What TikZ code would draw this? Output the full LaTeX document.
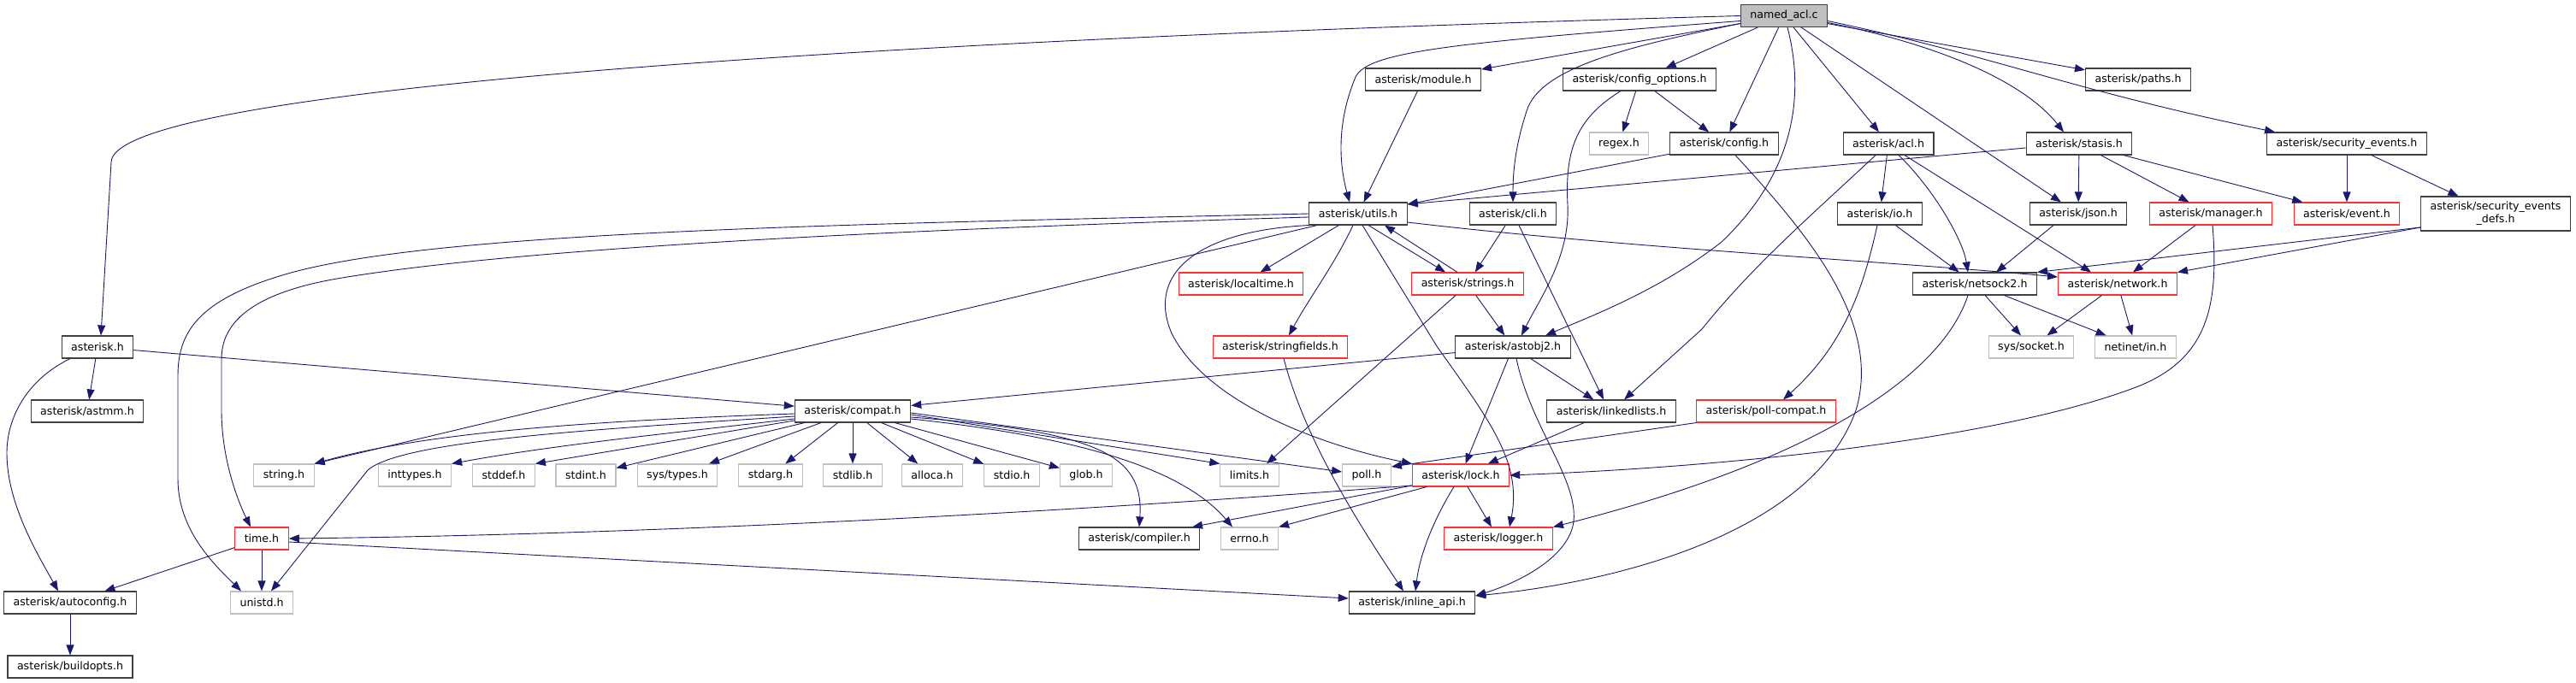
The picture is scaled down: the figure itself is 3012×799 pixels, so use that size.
\documentclass[tikz,border=0pt]{standalone}
\usepackage{fontspec}
\setmainfont{DejaVu Sans}
\usetikzlibrary{arrows.meta}
\definecolor{dgEdge}{HTML}{191970}
\definecolor{dgBlack}{HTML}{404040}
\definecolor{dgRed}{HTML}{FF3030}
\definecolor{dgGrey}{HTML}{BFBFBF}
\definecolor{dgFill}{HTML}{BFBFBF}

\begin{document}
\begin{tikzpicture}[
    x=1pt, y=-1pt,
    >={Triangle[length=12pt, width=9pt]},
    every node/.style={font=\fontsize{12.6}{15}\selectfont},
    % --- node styles ---
    hdr/.style={
        draw=dgBlack, line width=1.1pt, fill=white,
        minimum height=26pt, inner xsep=11pt, inner ysep=0pt,
        align=center,
    },
    redhdr/.style={hdr, draw=dgRed},
    syshdr/.style={hdr, draw=dgGrey},
    srcfile/.style={hdr, fill=dgFill},
    % --- connector style ---
    inc/.style={->, draw=dgEdge, line width=0.9pt},
]
\useasboundingbox (0,0) rectangle (3012,799);

% ===== FILES ================================================================

% -- source file --
\node[srcfile] (named) at (2086, 18.5) {named\_acl.c};

% -- row 1 --
\node[hdr] (module)    at (1664, 93) {asterisk/module.h};
\node[hdr] (configopt) at (1917, 93) {asterisk/config\_options.h};
\node[hdr] (paths)     at (2500, 93) {asterisk/paths.h};

% -- row 2 --
\node[syshdr] (regex)  at (1893, 168) {regex.h};
\node[hdr] (config)    at (2016, 168) {asterisk/config.h};
\node[hdr] (acl)       at (2208, 168) {asterisk/acl.h};
\node[hdr] (stasis)    at (2431, 168) {asterisk/stasis.h};
\node[hdr] (secevents) at (2744, 168) {asterisk/security\_events.h};

% -- row 3 --
\node[hdr] (utils)     at (1588, 250) {asterisk/utils.h};
\node[hdr] (cli)       at (1769, 250) {asterisk/cli.h};
\node[hdr] (io)        at (2198, 250) {asterisk/io.h};
\node[hdr] (json)      at (2430, 250) {asterisk/json.h};
\node[redhdr] (manager) at (2585, 250) {asterisk/manager.h};
\node[redhdr] (event)  at (2744, 250) {asterisk/event.h};
\node[hdr, minimum height=40pt] (secdefs) at (2918, 250)
    {asterisk/security\_events\\\_defs.h};

% -- row 4 --
\node[redhdr] (localtime) at (1451, 332) {asterisk/localtime.h};
\node[redhdr] (strings)   at (1716, 332) {asterisk/strings.h};
\node[hdr] (netsock2)     at (2309, 332) {asterisk/netsock2.h};
\node[redhdr] (network)   at (2476, 332) {asterisk/network.h};

% -- row 5 --
\node[hdr] (asterisk)        at (114, 406)  {asterisk.h};
\node[redhdr] (stringfields) at (1497, 406) {asterisk/stringfields.h};
\node[hdr] (astobj2)         at (1769, 406) {asterisk/astobj2.h};
\node[syshdr] (socket)       at (2375, 406) {sys/socket.h};
\node[syshdr] (netinet)      at (2497, 406) {netinet/in.h};

% -- row 6 --
\node[hdr] (astmm)         at (102, 481)  {asterisk/astmm.h};
\node[hdr] (compat)        at (997, 481)  {asterisk/compat.h};
\node[hdr] (linkedlists)   at (1884, 481) {asterisk/linkedlists.h};
\node[redhdr] (pollcompat) at (2065, 481) {asterisk/poll-compat.h};

% -- row 7: system headers --
\node[syshdr] (string)   at (332, 556)  {string.h};
\node[syshdr] (inttypes) at (485, 556)  {inttypes.h};
\node[syshdr] (stddef)   at (589, 556)  {stddef.h};
\node[syshdr] (stdint)   at (685, 556)  {stdint.h};
\node[syshdr] (systypes) at (792, 556)  {sys/types.h};
\node[syshdr] (stdarg)   at (901, 556)  {stdarg.h};
\node[syshdr] (stdlib)   at (997, 556)  {stdlib.h};
\node[syshdr] (alloca)   at (1090, 556) {alloca.h};
\node[syshdr] (stdio)    at (1183, 556) {stdio.h};
\node[syshdr] (glob)     at (1270, 556) {glob.h};
\node[syshdr] (limits)   at (1461, 556) {limits.h};
\node[syshdr] (poll)     at (1598, 556) {poll.h};
\node[redhdr] (lock)     at (1708, 556) {asterisk/lock.h};

% -- row 8 --
\node[redhdr] (time)   at (306, 630)  {time.h};
\node[hdr] (compiler)  at (1332, 630) {asterisk/compiler.h};
\node[syshdr] (errno)  at (1461, 630) {errno.h};
\node[redhdr] (logger) at (1752, 630) {asterisk/logger.h};

% -- row 9 / 10 --
\node[hdr] (autoconfig) at (82, 705)   {asterisk/autoconfig.h};
\node[syshdr] (unistd)  at (306, 705)  {unistd.h};
\node[hdr] (inline)     at (1651, 705) {asterisk/inline\_api.h};
\node[hdr] (buildopts)  at (82, 780)   {asterisk/buildopts.h};


% ===== INCLUDES OF named_acl.c ==============================================
\draw[inc] (named.west) .. controls (900, 50) and (130, 110) .. (130, 190)
    -- ([xshift=4pt]asterisk.north);
\draw[inc] ([yshift=-6pt]named.west) .. controls (1700, 50) and (1600, 60) .. (1585, 90)
    .. controls (1560, 150) and (1568, 200) .. ([xshift=-10pt]utils.north);
\draw[inc] (named) -- (module);
\draw[inc] ([yshift=-9pt]named.west) .. controls (1900, 55) and (1800, 80) .. (1785, 130)
    .. controls (1772, 170) and (1769, 200) .. (cli.north);
\draw[inc] (named) -- (configopt);
\draw[inc] (named) -- (config);
\draw[inc] ([xshift=4pt]named.south) .. controls (2110, 110) and (2100, 200) .. (2013, 283)
    .. controls (1940, 340) and (1860, 370) .. ([xshift=38pt]astobj2.north);
\draw[inc] (named) -- (acl);
\draw[inc] (named) -- (json);
\draw[inc] ([yshift=-8pt]named.east) .. controls (2280, 55) and (2370, 100)
    .. ([xshift=-18pt]stasis.north);
\draw[inc] (named) -- (paths);
\draw[inc] ([yshift=-6pt]named.east) .. controls (2330, 65) and (2420, 105)
    .. ([xshift=10pt]secevents.north west);

% ===== asterisk.h ===========================================================
\draw[inc] (asterisk) -- (astmm);
\draw[inc] ([xshift=-32pt]asterisk.south) .. controls (30, 445) and (8, 490) .. (8, 530)
    .. controls (8, 590) and (45, 650) .. ([xshift=-14pt]autoconfig.north);
\draw[inc] (asterisk) -- (compat);
\draw[inc] (autoconfig) -- (buildopts);

% ===== module.h / config ====================================================
\draw[inc] (module) -- (utils);
\draw[inc] (configopt) -- (regex);
\draw[inc] (configopt) -- (config);
\draw[inc] ([xshift=-22pt]configopt.south) .. controls (1840, 140) and (1830, 180) .. (1833, 240)
    .. controls (1836, 300) and (1800, 350) .. ([xshift=10pt]astobj2.north);
\draw[inc] (config) -- (utils);
\draw[inc] ([xshift=13pt]config.south) .. controls (2120, 280) and (2200, 380) .. (2170, 480)
    .. controls (2120, 620) and (1900, 680) .. ([yshift=8pt]inline.east);

% ===== utils.h ==============================================================
\draw[inc] (utils.west) .. controls (1000, 262) and (500, 270) .. (330, 322)
    .. controls (230, 352) and (208, 390) .. (208, 440) -- (208, 560)
    .. controls (208, 620) and (250, 660) .. ([xshift=-24pt]unistd.north);
\draw[inc] ([yshift=-4pt]utils.west) .. controls (1000, 270) and (600, 292) .. (400, 325)
    .. controls (290, 343) and (259, 380) .. (259, 420) -- (259, 480)
    .. controls (259, 540) and (280, 590) .. ([xshift=-13pt]time.north);
\draw[inc] ([xshift=-48pt]utils.south) -- (string.north east);
\draw[inc] (utils) -- (localtime);
\draw[inc] ([xshift=-6pt]utils.south) .. controls (1560, 310) and (1530, 350)
    .. ([xshift=10pt]stringfields.north);
\draw[inc] ([xshift=12pt]utils.south) -- ([xshift=-26pt]strings.north);
\draw[inc] (utils.south west) .. controls (1400, 270) and (1340, 320) .. (1370, 390)
    .. controls (1410, 470) and (1540, 520) .. (lock.north west);
\draw[inc] ([xshift=5pt]utils.south) -- (1680, 405)
    .. controls (1740, 490) and (1780, 540) .. ([xshift=13pt]logger.north);
\draw[inc] ([yshift=-10pt]utils.east) .. controls (1900, 290) and (2200, 305)
    .. ([yshift=8pt]network.west);

% ===== cli.h / strings.h ====================================================
\draw[inc] (cli) -- (strings);
\draw[inc] ([xshift=7pt]cli.south) -- ([xshift=-9pt]linkedlists.north);
\draw[inc] ([xshift=-12pt]strings.north) -- ([xshift=31pt]utils.south);
\draw[inc] (strings) -- (astobj2);
\draw[inc] ([xshift=-14pt]strings.south) -- ([xshift=20pt]limits.north);

% ===== astobj2.h / stringfields.h ===========================================
\draw[inc] (astobj2) -- (compat);
\draw[inc] (astobj2) -- (lock);
\draw[inc] (astobj2) -- (linkedlists);
\draw[inc] ([xshift=4pt]astobj2.south) .. controls (1790, 500) and (1845, 560) .. (1840, 610)
    .. controls (1835, 650) and (1780, 680) .. ([yshift=8pt]inline.east);
\draw[inc] ([xshift=4pt]stringfields.south) .. controls (1525, 510) and (1580, 600)
    .. ([xshift=-10pt]inline.north);

% ===== compat.h =============================================================
\draw[inc] ([yshift=-3pt]compat.west) .. controls (700, 492) and (500, 505) .. (string.north east);
\draw[inc] ([yshift=-6pt]compat.west) .. controls (700, 502) and (470, 515) .. (430, 550)
    -- ([xshift=11pt]unistd.north);
\draw[inc] ([yshift=-9pt]compat.west) .. controls (800, 505) and (650, 520) .. (inttypes.north east);
\draw[inc] ([yshift=-11pt]compat.west) -- (stddef.north east);
\draw[inc] (compat) -- (stdint);
\draw[inc] (compat) -- (systypes);
\draw[inc] (compat) -- (stdarg);
\draw[inc] (compat) -- (stdlib);
\draw[inc] (compat) -- (alloca);
\draw[inc] (compat) -- (stdio);
\draw[inc] (compat) -- (glob);
\draw[inc] ([yshift=-4pt]compat.east) -- (limits.north west);
\draw[inc] ([yshift=-2pt]compat.east) -- ([yshift=4pt]poll.west);
\draw[inc] ([yshift=-7pt]compat.east) .. controls (1280, 505) and (1338, 530) .. (compiler.north);
\draw[inc] ([yshift=-9pt]compat.east) .. controls (1250, 510) and (1380, 545)
    .. ([xshift=-20pt]errno.north);

% ===== time.h / lock.h ======================================================
\draw[inc] (time) -- (autoconfig);
\draw[inc] (time) -- (unistd);
\draw[inc] ([yshift=-4pt]time.east) -- ([yshift=5pt]inline.west);
\draw[inc] ([yshift=-12pt]lock.west) .. controls (1300, 595) and (800, 625) .. (time.east);
\draw[inc] ([yshift=-12pt]lock.west) -- ([xshift=62pt]compiler.north);
\draw[inc] ([xshift=-40pt]lock.south) -- (errno.north east);
\draw[inc] (lock) -- (logger);
\draw[inc] ([xshift=-8pt]lock.south) .. controls (1675, 610) and (1660, 650)
    .. ([xshift=4pt]inline.north);
\draw[inc] (linkedlists) -- (lock);
\draw[inc] (pollcompat.south west) -- ([yshift=10pt]poll.east);

% ===== acl.h / io.h =========================================================
\draw[inc] (acl) -- (io);
\draw[inc] ([xshift=12pt]acl.south) .. controls (2260, 220) and (2295, 280)
    .. ([xshift=-8pt]netsock2.north);
\draw[inc] ([xshift=19pt]acl.south) -- ([xshift=-31pt]network.north);
\draw[inc] ([xshift=-15pt]acl.south) .. controls (2120, 250) and (2050, 310) .. (1990, 385)
    -- ([xshift=15pt]linkedlists.north);
\draw[inc] (io) -- (netsock2);
\draw[inc] ([xshift=-3pt]io.south) .. controls (2180, 330) and (2160, 400)
    .. ([xshift=20pt]pollcompat.north);

% ===== stasis.h / json.h / manager.h ========================================
\draw[inc] ([yshift=-5pt]stasis.west) -- ([yshift=11pt]utils.east);
\draw[inc] (stasis) -- (json);
\draw[inc] (stasis) -- (manager);
\draw[inc] (stasis) -- (event);
\draw[inc] ([xshift=-29pt]json.south) -- ([xshift=25pt]netsock2.north);
\draw[inc] (manager) -- (network);
\draw[inc] ([xshift=2pt]manager.south) .. controls (2595, 360) and (2580, 420) .. (2500, 452)
    .. controls (2350, 510) and (2050, 545) .. (lock.east);

% ===== security events ======================================================
\draw[inc] (secevents) -- (event);
\draw[inc] (secevents) -- (secdefs);
\draw[inc] ([yshift=-16pt]secdefs.west) -- (netsock2.north east);
\draw[inc] ([yshift=-16pt]secdefs.west) -- (network.north east);

% ===== netsock2.h / network.h ===============================================
\draw[inc] (netsock2) -- (socket);
\draw[inc] (netsock2) -- (netinet);
\draw[inc] ([xshift=-8pt]netsock2.south) .. controls (2270, 440) and (2120, 540)
    .. (logger.north east);
\draw[inc] (network) -- (socket);
\draw[inc] (network) -- (netinet);

\end{tikzpicture}
\end{document}
